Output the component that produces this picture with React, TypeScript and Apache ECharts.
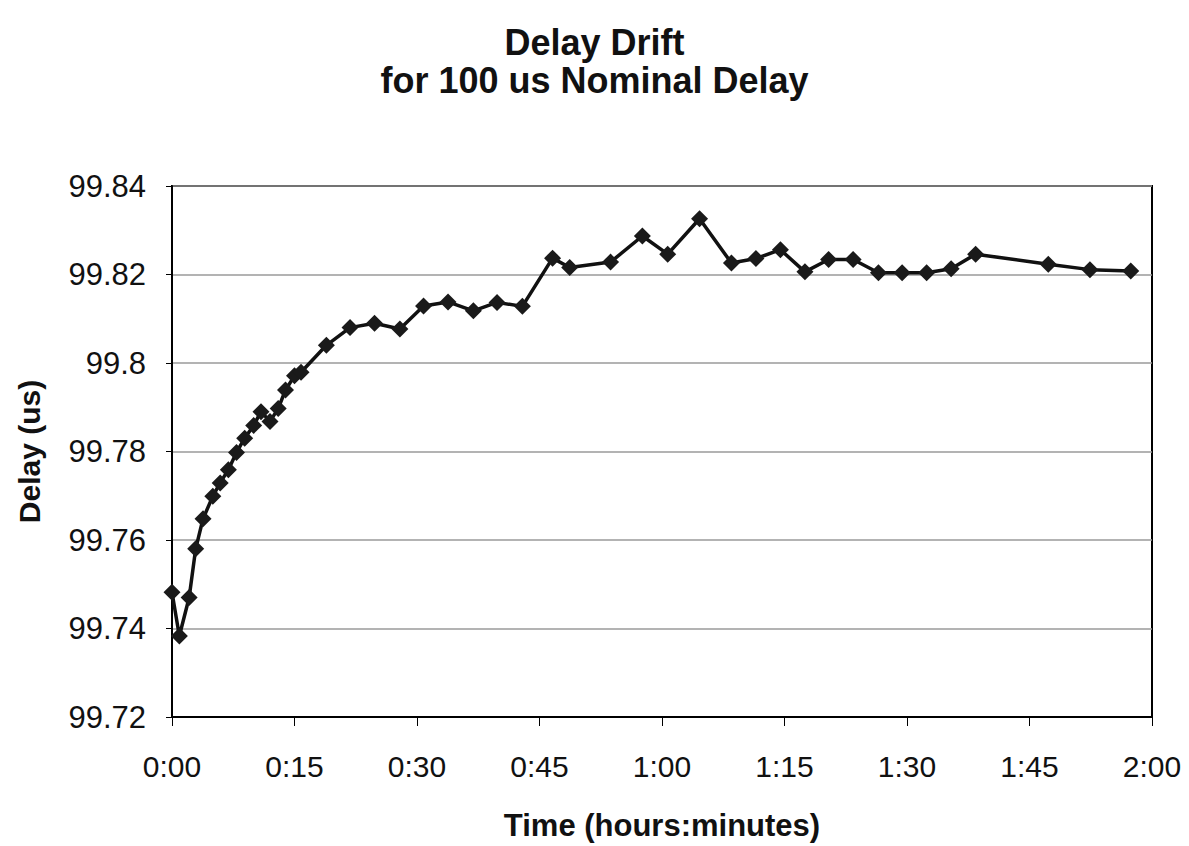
import React, { useEffect, useRef } from "react";
import * as echarts from "echarts";

// time in minutes since start
const times = [0, 0.9, 2.1, 2.9, 3.8, 5.0, 5.9, 6.9, 7.9, 8.9, 10.0, 10.9, 12.0, 13.0, 13.9, 15.0, 15.8, 18.9, 21.8, 24.8, 27.9, 30.8, 33.8, 36.9, 39.8, 42.9, 46.6, 48.7, 53.7, 57.6, 60.7, 64.6, 68.5, 71.5, 74.5, 77.5, 80.4, 83.4, 86.5, 89.4, 92.4, 95.4, 98.4, 107.3, 112.4, 117.4];
// delay in microseconds
const delays = [99.7482, 99.7383, 99.747, 99.758, 99.7648, 99.7699, 99.7729, 99.7759, 99.7798, 99.783, 99.7859, 99.789, 99.7868, 99.7897, 99.7939, 99.7971, 99.7979, 99.804, 99.808, 99.809, 99.8077, 99.8129, 99.8138, 99.8118, 99.8137, 99.8128, 99.8237, 99.8216, 99.8228, 99.8287, 99.8246, 99.8326, 99.8226, 99.8236, 99.8256, 99.8206, 99.8234, 99.8234, 99.8204, 99.8204, 99.8204, 99.8213, 99.8246, 99.8223, 99.8211, 99.8208];

const titleLines = ["Delay Drift", "for 100 us Nominal Delay"];
const xAxisTitle = "Time (hours:minutes)";
const yAxisTitle = "Delay (us)";

const FONT = "'Liberation Sans', Arial, Helvetica, sans-serif";

function fmtTime(m: number): string {
  const h = Math.floor(m / 60);
  const mm = Math.round(m - h * 60);
  return h + ":" + (mm < 10 ? "0" + mm : String(mm));
}

export default function App() {
  const ref = useRef<HTMLDivElement>(null);
  useEffect(() => {
    if (!ref.current) return;
    const chart = echarts.init(ref.current, undefined, { renderer: "svg" });
    const data = times.map((t, i) => [t, delays[i]]);
    chart.setOption({
      animation: false,
      backgroundColor: "#ffffff",
      title: {
        text: titleLines.join("\n"),
        left: "center",
        top: 18,
        textStyle: {
          fontFamily: FONT,
          fontSize: 36,
          fontWeight: "bold",
          color: "#111",
          lineHeight: 38,
        },
      },
      grid: {
        left: 172,
        right: 37,
        top: 186,
        bottom: 126,
        show: true,
        backgroundColor: "#ffffff",
        borderColor: "#000",
        borderWidth: 2,
      },
      xAxis: {
        type: "value",
        min: 0,
        max: 120,
        interval: 15,
        name: xAxisTitle,
        nameLocation: "middle",
        nameGap: 93,
        nameTextStyle: { fontFamily: FONT, fontSize: 31, fontWeight: "bold", color: "#111" },
        axisLine: { show: true, onZero: false, lineStyle: { color: "#000", width: 2 } },
        axisTick: { show: true, length: 9, lineStyle: { color: "#000", width: 1 } },
        axisLabel: {
          margin: 34,
          fontFamily: FONT,
          fontSize: 30,
          color: "#111",
          formatter: (v: number) => fmtTime(v),
        },
        splitLine: { show: false },
      },
      yAxis: {
        type: "value",
        min: 99.72,
        max: 99.84,
        interval: 0.02,
        name: yAxisTitle,
        nameLocation: "middle",
        nameGap: 128,
        nameRotate: 90,
        nameTextStyle: { fontFamily: FONT, fontSize: 30, fontWeight: "bold", color: "#111" },
        axisLine: { show: true, onZero: false, lineStyle: { color: "#000", width: 2 } },
        axisTick: { show: true, length: 6, lineStyle: { color: "#000", width: 1 } },
        axisLabel: {
          margin: 26,
          fontFamily: FONT,
          fontSize: 31,
          color: "#111",
          formatter: (v: number) => String(parseFloat(v.toFixed(2))),
        },
        splitLine: { show: true, lineStyle: { color: "#9a9a9a", width: 1.5 } },
      },
      series: [
        {
          type: "line",
          data,
          clip: false,
          symbol: "diamond",
          symbolSize: 17,
          itemStyle: { color: "#1a1a1a" },
          lineStyle: { color: "#111", width: 3.5 },
        },
      ],
    });
    return () => chart.dispose();
  }, []);
  return (
    <div
      ref={ref}
      style={{ position: "absolute", left: 0, top: 0, width: 1189, height: 846 }}
    />
  );
}
